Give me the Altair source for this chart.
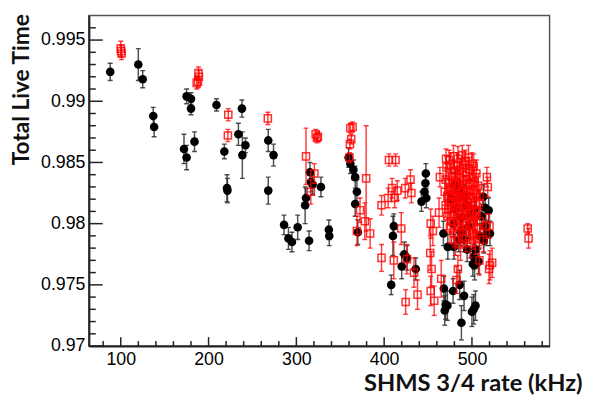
import altair as alt
import pandas as pd

# ---- black series (filled circles) ----
black_x = [88, 120, 125, 137, 138, 172, 175, 175, 180, 180, 184, 209, 218, 221, 221.5,
           238, 234, 238.5, 242, 268, 274, 268, 286, 291, 295, 301.5, 314.5, 310, 311,
           315.5, 316.5, 318.5, 328, 337, 337.5, 359.5, 361.5, 365, 367, 369, 367, 370,
           411, 410, 423, 420, 426, 408, 436, 447.5, 447, 446, 442.5, 448, 467.5, 472.5,
           468, 472, 470, 469, 478.5, 486, 488, 491, 500, 504, 502, 503, 479.5, 485, 491,
           494.5, 502, 507.5, 513, 519, 511, 515, 508.5, 517, 515, 513.5, 520.5, 504, 501,
           476, 482, 488, 494, 499, 485, 491, 479, 496, 503, 487, 480]
black_y = [0.9924, 0.9930, 0.9918, 0.9888, 0.9879, 0.9861, 0.9854, 0.9904, 0.9902, 0.9894,
           0.9867, 0.9897, 0.9859, 0.9829, 0.9827, 0.9894, 0.9873, 0.9856, 0.9864, 0.9868,
           0.9856, 0.9827, 0.9799, 0.9788, 0.9785, 0.9797, 0.9786, 0.9815, 0.9821, 0.9842,
           0.9834, 0.9832, 0.9830, 0.9795, 0.9790, 0.9854, 0.9849, 0.9844, 0.9838, 0.9826,
           0.9816, 0.9793, 0.9798, 0.9790, 0.9775, 0.9765, 0.9772, 0.9750, 0.9763, 0.9841,
           0.9833, 0.9826, 0.9818, 0.9821, 0.9792, 0.9781, 0.9747, 0.9733, 0.9734, 0.9729,
           0.9745, 0.9750, 0.9719, 0.9741, 0.9728, 0.9733, 0.9730, 0.9766, 0.9781, 0.9787,
           0.9787, 0.9779, 0.9773, 0.9769, 0.9822, 0.9811, 0.9806, 0.9798, 0.9790, 0.9792,
           0.9813, 0.9786, 0.9792, 0.9779, 0.9767,
           0.9820, 0.9812, 0.9805, 0.9815, 0.9808, 0.9828, 0.9822, 0.9800, 0.9798, 0.9812,
           0.9793, 0.9832]
black_err = [0.0007, 0.0013, 0.0007, 0.0007, 0.0008, 0.0012, 0.0010, 0.0006, 0.0005, 0.0005,
             0.0008, 0.0005, 0.0006, 0.0011, 0.0010, 0.0007, 0.0009, 0.0019, 0.0006, 0.0009,
             0.0009, 0.0011, 0.0008, 0.0009, 0.0008, 0.0010, 0.0008, 0.0015, 0.0008, 0.0008,
             0.0008, 0.0008, 0.0008, 0.0008, 0.0008, 0.0008, 0.0008, 0.0008, 0.0009, 0.0010,
             0.0010, 0.0010, 0.0010, 0.0016, 0.0010, 0.0010, 0.0010, 0.0008, 0.0009, 0.0008,
             0.0008, 0.0008, 0.0008, 0.0008, 0.0010, 0.0010, 0.0010, 0.0012, 0.0012, 0.0012,
             0.0010, 0.0012, 0.0014, 0.0012, 0.0012, 0.0012, 0.0012, 0.0012, 0.0010, 0.0010,
             0.0010, 0.0010, 0.0010, 0.0010, 0.0010, 0.0010, 0.0010, 0.0010, 0.0010, 0.0010,
             0.0010, 0.0010, 0.0010, 0.0010, 0.0010,
             0.0010, 0.0009, 0.0011, 0.0010, 0.0012, 0.0009, 0.0010, 0.0011, 0.0010, 0.0009,
             0.0011, 0.0010]

# ---- red series (open squares) ----
red_x = [100, 100.5, 101, 188.5, 189, 188, 186.5, 222.5, 222, 267.5, 322, 323.5, 324.5,
         311, 320.5, 316.5, 361.5, 364, 362.5, 361, 360.5, 379.5, 372.5, 378, 369, 384,
         405.5, 413, 397, 404.5, 409, 412, 415, 424, 430, 431, 397, 411, 419.5, 426, 434,
         424.5, 438, 453, 455.5, 452.5, 454, 453, 457, 465, 462.5, 463.5, 470.5, 482.5, 484,
         508.5, 519.5, 520.5, 523, 563.5, 564.5, 517, 518, 516, 520, 513, 502, 502,
         474, 479, 484, 489, 492, 496, 500,
         471, 476, 480, 483, 486, 490, 493, 497, 502, 505,
         470, 474, 477, 481, 484, 487, 490, 494, 497, 500, 503, 507,
         469, 472, 475, 478, 481, 484, 487, 490, 493, 496, 499, 502, 505, 509,
         470, 473, 477, 480, 483, 486, 489, 492, 495, 498, 501, 505, 508,
         472, 476, 479, 483, 486, 490, 494, 497, 501, 504, 509,
         475, 480, 485, 489, 493, 497, 502, 506,
         481, 487, 493, 498, 504]
red_y = [0.9943, 0.9941, 0.9939, 0.9923, 0.9920, 0.9916, 0.9915, 0.9889, 0.9872, 0.9886,
         0.9873, 0.9870, 0.9871, 0.9855, 0.9841, 0.9826, 0.9878, 0.9879, 0.9869, 0.9865,
         0.9854, 0.9837, 0.9811, 0.9802, 0.9794, 0.9792, 0.9852, 0.9852, 0.9815, 0.9821,
         0.9829, 0.9821, 0.9827, 0.9829, 0.9836, 0.9825, 0.9772, 0.9770, 0.9796, 0.9771,
         0.9760, 0.9736, 0.9742, 0.9800, 0.9794, 0.9776, 0.9763, 0.9745, 0.9737, 0.9755,
         0.9809, 0.9838, 0.9853, 0.9754, 0.9763, 0.9770, 0.9763, 0.9766, 0.9768, 0.9796,
         0.9788, 0.9838, 0.9830, 0.9798, 0.9798, 0.9787, 0.9792, 0.9803,
         0.9852, 0.9855, 0.9853, 0.9856, 0.9851, 0.9854, 0.9849,
         0.9846, 0.9848, 0.9843, 0.9847, 0.9844, 0.9848, 0.9842, 0.9845, 0.9847, 0.9841,
         0.9836, 0.9833, 0.9838, 0.9835, 0.9831, 0.9837, 0.9833, 0.9836, 0.9832, 0.9838,
         0.9834, 0.9831,
         0.9826, 0.9822, 0.9828, 0.9824, 0.9827, 0.9821, 0.9825, 0.9828, 0.9823, 0.9826,
         0.9821, 0.9827, 0.9824, 0.9822,
         0.9815, 0.9812, 0.9818, 0.9814, 0.9817, 0.9811, 0.9816, 0.9813, 0.9818, 0.9812,
         0.9815, 0.9811, 0.9817,
         0.9806, 0.9802, 0.9808, 0.9804, 0.9807, 0.9801, 0.9805, 0.9808, 0.9803, 0.9806,
         0.9802,
         0.9796, 0.9792, 0.9797, 0.9793, 0.9798, 0.9794, 0.9791, 0.9796,
         0.9786, 0.9783, 0.9788, 0.9784, 0.9787]
red_err = [0.0006, 0.0005, 0.0005, 0.0005, 0.0005, 0.0005, 0.0005, 0.0005, 0.0005, 0.0005,
           0.0004, 0.0004, 0.0004, 0.0023, 0.0008, 0.0010, 0.0004, 0.0004, 0.0004, 0.0004,
           0.0004, 0.0043, 0.0010, 0.0015, 0.0012, 0.0012, 0.0005, 0.0005, 0.0008, 0.0008,
           0.0008, 0.0008, 0.0008, 0.0008, 0.0008, 0.0008, 0.0011, 0.0015, 0.0013, 0.0012,
           0.0012, 0.0010, 0.0012, 0.0012, 0.0012, 0.0014, 0.0014, 0.0012, 0.0012, 0.0015,
           0.0012, 0.0008, 0.0008, 0.0011, 0.0011, 0.0012, 0.0012, 0.0012, 0.0012, 0.0004,
           0.0008, 0.0008, 0.0008, 0.0010, 0.0010, 0.0010, 0.0010, 0.0010,
           0.0008, 0.0009, 0.0010, 0.0008, 0.0009, 0.0010, 0.0009,
           0.0009, 0.0010, 0.0008, 0.0011, 0.0009, 0.0010, 0.0012, 0.0009, 0.0010, 0.0011,
           0.0010, 0.0009, 0.0011, 0.0010, 0.0012, 0.0009, 0.0010, 0.0011, 0.0009, 0.0010,
           0.0012, 0.0010,
           0.0011, 0.0010, 0.0009, 0.0012, 0.0010, 0.0011, 0.0009, 0.0010, 0.0012, 0.0011,
           0.0010, 0.0009, 0.0011, 0.0010,
           0.0010, 0.0012, 0.0009, 0.0011, 0.0010, 0.0012, 0.0010, 0.0009, 0.0011, 0.0012,
           0.0010, 0.0011, 0.0010,
           0.0011, 0.0010, 0.0012, 0.0009, 0.0011, 0.0010, 0.0012, 0.0010, 0.0011, 0.0012,
           0.0010,
           0.0012, 0.0011, 0.0010, 0.0012, 0.0011, 0.0010, 0.0012, 0.0011,
           0.0012, 0.0013, 0.0011, 0.0012, 0.0012]

# ---- axis ticks ----
x_major = [100, 200, 300, 400, 500]
x_minor = [80, 120, 140, 160, 180, 220, 240, 260, 280, 320, 340, 360, 380, 420, 440, 460,
           480, 520, 540, 560, 580]
y_major = [0.970, 0.975, 0.980, 0.985, 0.990, 0.995]
y_minor = [0.971, 0.972, 0.973, 0.974, 0.976, 0.977, 0.978, 0.979, 0.981, 0.982, 0.983,
           0.984, 0.986, 0.987, 0.988, 0.989, 0.991, 0.992, 0.993, 0.994, 0.996]

X_DOMAIN = [63.7, 588.4]
Y_DOMAIN = [0.970, 0.997]
W, H = 467, 335

xs = alt.Scale(domain=X_DOMAIN, nice=False, zero=False)
ys = alt.Scale(domain=Y_DOMAIN, nice=False, zero=False)


def series_df(xv, yv, ev):
    d = pd.DataFrame({"x": xv, "y": yv, "err": ev})
    d["lo"] = d["y"] - d["err"]
    d["hi"] = d["y"] + d["err"]
    return d


dfb = series_df(black_x, black_y, black_err)
dfr = series_df(red_x, red_y, red_err)

label_font = "Liberation Sans"
title_font = "Lato"

xaxis = alt.Axis(values=x_major, tickSize=0, ticks=False, labelFontSize=18,
                 labelFont=label_font, labelColor="black", labelPadding=5,
                 domainColor="#222", domainWidth=2, grid=False,
                 title="SHMS 3/4 rate (kHz)", titleFont=title_font,
                 titleFontSize=24, titleFontWeight="bold", titleColor="#111",
                 titleAnchor="end", titleAlign="right", titleX=500, titleY=45,
                 titleBaseline="alphabetic", labelFlush=False)
yaxis = alt.Axis(values=y_major, format=".3~f", tickSize=0, ticks=False, labelFontSize=18,
                 labelFont=label_font, labelColor="black", labelPadding=4,
                 domainColor="#222", domainWidth=2, grid=False, title="Total Live Time",
                 titleFont=title_font, titleFontSize=23, titleFontWeight="bold",
                 titleColor="#111", titleAngle=-90, titleAlign="right", titleX=-61,
                 titleY=-2, titleBaseline="alphabetic", labelFlush=False)


def X(field):
    return alt.X(field, scale=xs, axis=xaxis)


def Y(field):
    return alt.Y(field, scale=ys, axis=yaxis)


def layer_series(d, color, opacity, point_mark):
    base = alt.Chart(d)
    bars = base.mark_rule(color=color, strokeWidth=1.5, opacity=opacity, clip=True).encode(
        x=X("x:Q"), y=Y("lo:Q"), y2="hi:Q")
    cap_lo = base.mark_tick(color=color, orient="horizontal", size=5, thickness=1.4,
                            opacity=opacity, clip=True).encode(x=X("x:Q"), y=Y("lo:Q"))
    cap_hi = base.mark_tick(color=color, orient="horizontal", size=5, thickness=1.4,
                            opacity=opacity, clip=True).encode(x=X("x:Q"), y=Y("hi:Q"))
    pts = base.mark_point(**point_mark).encode(x=X("x:Q"), y=Y("y:Q"))
    return [bars, cap_lo, cap_hi, pts]


black_layers = layer_series(dfb, "#333", 0.85,
                            dict(shape="circle", filled=True, color="black", size=76,
                                 opacity=1, clip=True))
red_layers = layer_series(dfr, "#ff0000", 0.75,
                          dict(shape="square", filled=False, color="#ff0000", size=52,
                               strokeWidth=1.5, opacity=0.8, clip=True))

# inward tick marks (ROOT style)
ymaj = alt.Chart(pd.DataFrame({"v": y_major})).mark_rule(color="#222", strokeWidth=1.5).encode(
    y=Y("v:Q"), x=alt.value(0), x2=alt.value(14))
ymin = alt.Chart(pd.DataFrame({"v": y_minor})).mark_rule(color="#222", strokeWidth=1.5).encode(
    y=Y("v:Q"), x=alt.value(0), x2=alt.value(7))
xmaj = alt.Chart(pd.DataFrame({"v": x_major})).mark_rule(color="#222", strokeWidth=1.5).encode(
    x=X("v:Q"), y=alt.value(H), y2=alt.value(H - 9))
xmin = alt.Chart(pd.DataFrame({"v": x_minor})).mark_rule(color="#222", strokeWidth=1.5).encode(
    x=X("v:Q"), y=alt.value(H), y2=alt.value(H - 5))

chart = alt.layer(
    *black_layers, *red_layers, ymaj, ymin, xmaj, xmin
).properties(
    width=W, height=H,
    autosize=alt.AutoSizeParams(type="none"),
    padding={"left": 82, "top": 5, "right": 42, "bottom": 51},
    background="white",
).configure_view(stroke="#555", strokeWidth=1.5)

chart.save("out.html", embed_options={"renderer": "svg", "actions": False})
